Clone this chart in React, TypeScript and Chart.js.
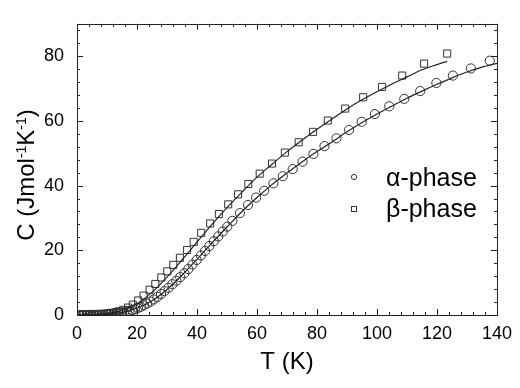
import React, { useEffect, useRef } from "react";
import { Chart, registerables } from "chart.js";
Chart.register(...registerables);

// α-phase measured points
const alphaT = [1.0, 1.8, 2.6, 3.4, 4.2, 5.0, 5.8, 6.6, 7.4, 8.2, 9.0, 9.8, 10.6, 11.4, 12.2, 13.0, 13.9, 14.8, 15.7, 16.6, 17.5, 18.4, 19.3, 20.3, 21.3, 22.3, 23.4, 24.5, 25.6, 26.8, 28.0, 29.2, 30.5, 31.8, 33.1, 34.4, 35.8, 37.1, 38.5, 39.9, 41.3, 42.7, 44.1, 45.6, 47.1, 48.6, 50.1, 51.8, 54.3, 57.0, 59.7, 62.4, 65.5, 68.6, 71.9, 75.2, 78.8, 82.5, 86.5, 90.7, 94.9, 99.3, 104.1, 109.1, 114.4, 119.8, 125.3, 131.3, 137.6];
const alphaC = [0, 0, 0.01, 0.01, 0.02, 0.03, 0.04, 0.06, 0.08, 0.11, 0.15, 0.19, 0.24, 0.3, 0.37, 0.45, 0.56, 0.7, 0.86, 1.05, 1.27, 1.52, 1.8, 2.15, 2.55, 3.0, 3.55, 4.15, 4.8, 5.6, 6.5, 7.4, 8.4, 9.5, 10.6, 11.7, 12.9, 14.2, 15.6, 17.0, 18.4, 19.8, 21.3, 22.8, 24.3, 25.8, 27.3, 29.1, 31.5, 34.0, 36.3, 38.4, 40.7, 42.9, 45.1, 47.4, 49.8, 52.2, 54.6, 57.2, 59.7, 62.1, 64.5, 66.8, 69.2, 71.7, 74.0, 76.2, 78.6];

// β-phase measured points
const betaT = [1.0, 2.0, 3.0, 4.0, 5.0, 6.0, 7.0, 8.0, 9.0, 10.0, 11.0, 12.0, 13.0, 14.0, 15.4, 17.0, 18.6, 20.4, 22.2, 24.2, 26.1, 28.1, 30.1, 32.1, 34.3, 36.7, 38.9, 41.4, 44.4, 47.3, 50.4, 53.7, 57.1, 60.9, 65.0, 69.3, 73.9, 78.7, 83.6, 89.4, 95.4, 101.7, 108.4, 115.7, 123.4];
const betaC = [0, 0.01, 0.02, 0.04, 0.06, 0.1, 0.15, 0.21, 0.3, 0.4, 0.53, 0.7, 0.9, 1.15, 1.6, 2.3, 3.2, 4.5, 6.0, 7.8, 9.6, 11.6, 13.5, 15.5, 17.7, 20.1, 22.6, 25.4, 28.3, 31.2, 34.2, 37.3, 40.5, 43.7, 46.8, 50.2, 53.4, 56.6, 60.1, 63.8, 67.3, 70.5, 74.0, 77.7, 80.8];

// fitted curves
const alphaFitT = [0, 5, 10, 15, 20, 25, 30, 35, 40, 45, 50, 55, 60, 65, 70, 75, 80, 85, 90, 95, 100, 105, 110, 115, 120, 125, 130, 135, 140];
const alphaFitC = [0, 0.05, 0.25, 0.8, 2.1, 4.4, 7.9, 12.3, 17.2, 22.3, 27.2, 32.0, 36.3, 40.3, 43.9, 47.3, 50.5, 53.5, 56.6, 59.5, 62.1, 64.6, 67.0, 69.2, 71.3, 73.3, 75.1, 76.6, 77.8];
const betaFitT = [0, 5, 10, 15, 20, 25, 30, 35, 40, 45, 50, 55, 60, 65, 70, 75, 80, 85, 90, 95, 100, 105, 110, 115, 120, 123.4];
const betaFitC = [0, 0.1, 0.4, 1.4, 3.5, 7.0, 11.7, 17.0, 22.5, 28.0, 33.2, 38.0, 42.6, 46.6, 50.5, 54.0, 57.4, 60.6, 63.7, 66.5, 69.0, 71.4, 73.6, 75.8, 77.4, 78.4];

const xMajor = [0, 20, 40, 60, 80, 100, 120, 140];
const yMajor = [0, 20, 40, 60, 80];
const legendLabels = ["α-phase", "β-phase"];

const FONT = "'Liberation Sans', Arial, Helvetica, sans-serif";

const toPts = (xs: number[], ys: number[]) => xs.map((x, i) => ({ x, y: ys[i] }));

export default function App() {
  const ref = useRef<HTMLCanvasElement>(null);
  useEffect(() => {
    document.body.style.margin = "0";
    const frame = {
      id: "frame",
      afterDraw(chart: any) {
        const { ctx, chartArea: a, scales } = chart;
        const xs = scales.x, ys = scales.y;
        ctx.save();
        ctx.strokeStyle = "#222";
        ctx.lineWidth = 1;
        ctx.strokeRect(Math.round(a.left) + 0.5, Math.round(a.top) + 0.5, Math.round(a.right - a.left), Math.round(a.bottom - a.top));
        ctx.beginPath();
        for (let v = 0; v <= 140; v += 4) {
          const px = Math.round(xs.getPixelForValue(v)) + 0.5;
          const len = v % 20 === 0 ? 6 : 3;
          ctx.moveTo(px, a.bottom); ctx.lineTo(px, a.bottom - len);
          ctx.moveTo(px, a.top); ctx.lineTo(px, a.top + len);
        }
        for (let v = 0; v <= 90; v += 4) {
          const py = Math.round(ys.getPixelForValue(v)) + 0.5;
          const len = v % 20 === 0 ? 6 : 3;
          ctx.moveTo(a.left, py); ctx.lineTo(a.left + len, py);
          ctx.moveTo(a.right, py); ctx.lineTo(a.right - len, py);
        }
        ctx.stroke();

        // x title
        ctx.fillStyle = "#000";
        ctx.font = `24px ${FONT}`;
        ctx.textAlign = "center";
        ctx.textBaseline = "middle";
        ctx.fillText("T (K)", (a.left + a.right) / 2, 362);

        // y title with superscripts
        ctx.translate(26, 175);
        ctx.rotate(-Math.PI / 2);
        const parts: [string, boolean][] = [["C (Jmol", false], ["-1", true], ["K", false], ["-1", true], [")", false]];
        const big = `24px ${FONT}`, small = `14px ${FONT}`;
        let total = 0;
        for (const [t, sup] of parts) { ctx.font = sup ? small : big; total += ctx.measureText(t).width; }
        let cx = -total / 2;
        ctx.textAlign = "left";
        ctx.textBaseline = "alphabetic";
        for (const [t, sup] of parts) {
          ctx.font = sup ? small : big;
          ctx.fillText(t, cx, sup ? 0 : 8);
          cx += ctx.measureText(t).width;
        }
        ctx.setTransform(1, 0, 0, 1, 0, 0);

        // legend
        ctx.strokeStyle = "#333";
        ctx.lineWidth = 1;
        ctx.beginPath();
        ctx.arc(354, 177, 2.6, 0, Math.PI * 2);
        ctx.stroke();
        ctx.strokeRect(351.5, 206.5, 5, 5);
        ctx.font = `25px ${FONT}`;
        ctx.fillStyle = "#000";
        ctx.textAlign = "left";
        ctx.textBaseline = "middle";
        ctx.fillText(legendLabels[0], 386, 179);
        ctx.fillText(legendLabels[1], 386, 210);
        ctx.restore();
      },
    };
    const chart = new Chart(ref.current!, {
      type: "scatter",
      data: {
        datasets: [
          { label: "α fit", data: toPts(alphaFitT, alphaFitC), showLine: true, pointRadius: 0, borderColor: "#222", borderWidth: 1.2, cubicInterpolationMode: "monotone" } as any,
          { label: "β fit", data: toPts(betaFitT, betaFitC), showLine: true, pointRadius: 0, borderColor: "#222", borderWidth: 1.2, cubicInterpolationMode: "monotone" } as any,
          { label: legendLabels[0], data: toPts(alphaT, alphaC), pointStyle: "circle", pointRadius: 4.6, borderColor: "#333", borderWidth: 1, backgroundColor: "rgba(0,0,0,0)" },
          { label: legendLabels[1], data: toPts(betaT, betaC), pointStyle: "rect", pointRadius: 5, borderColor: "#333", borderWidth: 1, backgroundColor: "rgba(0,0,0,0)" },
        ],
      },
      options: {
        responsive: false,
        animation: false,
        layout: { padding: { top: 3, right: 17, left: 0, bottom: 0 } },
        plugins: { legend: { display: false }, tooltip: { enabled: false } },
        scales: {
          x: {
            type: "linear", min: 0, max: 140,
            afterBuildTicks: (s: any) => { s.ticks = xMajor.map((v) => ({ value: v })); },
            ticks: { font: { size: 18, family: FONT }, color: "#000", padding: 8, maxRotation: 0 },
            grid: { display: false, drawTicks: false },
            border: { display: false },
            afterFit: (s: any) => { s.height = 73; },
          },
          y: {
            type: "linear", min: 0, max: 90,
            afterBuildTicks: (s: any) => { s.ticks = yMajor.map((v) => ({ value: v })); },
            ticks: { font: { size: 18, family: FONT }, color: "#000", padding: 13 },
            grid: { display: false, drawTicks: false },
            border: { display: false },
            afterFit: (s: any) => { s.width = 77; },
          },
        },
      },
      plugins: [frame],
    });
    return () => chart.destroy();
  }, []);
  return <canvas ref={ref} width={520} height={388} style={{ display: "block" }} />;
}
